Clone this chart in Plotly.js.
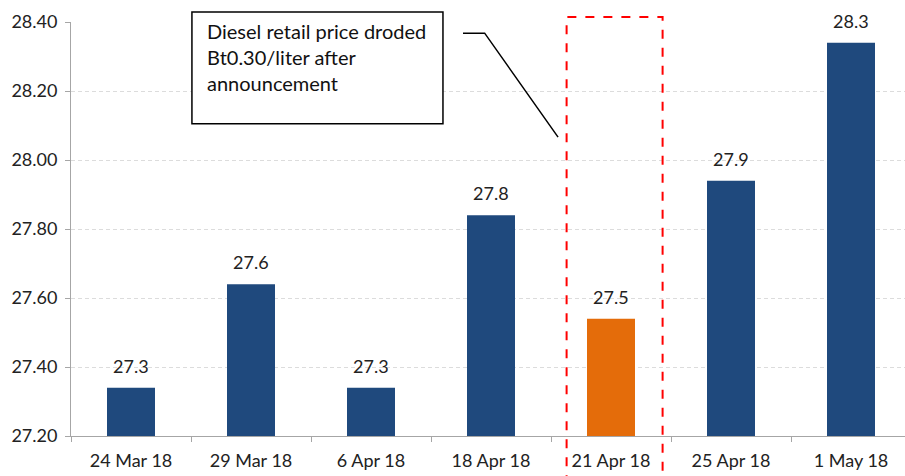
<!DOCTYPE html>
<html>
<head>
<meta charset="utf-8">
<script src="https://cdn.plot.ly/plotly-3.0.1.min.js"></script>
<style>html,body{margin:0;padding:0;background:#fff;}#chart{width:905px;height:476px;}</style>
</head>
<body>
<div id="chart"></div>
<script>
const categories = ["24 Mar 18", "29 Mar 18", "6 Apr 18", "18 Apr 18", "21 Apr 18", "25 Apr 18", "1 May 18"];
const prices = [27.34, 27.64, 27.34, 27.84, 27.54, 27.94, 28.34];
const priceLabels = ["27.3", "27.6", "27.3", "27.8", "27.5", "27.9", "28.3"];
const yTicks = [27.20, 27.40, 27.60, 27.80, 28.00, 28.20, 28.40];
const highlightCategory = "21 Apr 18";
const calloutText = "Diesel retail price droded<br>Bt0.30/liter after<br>announcement";

const FONT = "Lato, 'Open Sans', sans-serif";
const BLUE = "#1F497D";
const ORANGE = "#E46C0A";

const barColors = categories.map(c => c === highlightCategory ? ORANGE : BLUE);
const hiIdx = categories.indexOf(highlightCategory);

const labelAnns = categories.map((c, i) => ({
  x: c, y: prices[i], xref: 'x', yref: 'y', text: priceLabels[i],
  showarrow: false, yanchor: 'bottom', yshift: 9,
  font: {family: FONT, size: 18, color: '#222'}
}));

const data = [{
  type: 'bar', x: categories, y: prices,
  marker: {color: barColors, line: {width: 0}},
  width: 0.4, hoverinfo: 'none'
}];

const layout = {
  width: 905, height: 476,
  margin: {l: 71, r: 0, t: 22, b: 40},
  paper_bgcolor: '#fff', plot_bgcolor: '#fff',
  showlegend: false,
  xaxis: {
    type: 'category', range: [-0.5, 6.45],
    showline: true, linecolor: '#A6A6A6', linewidth: 1,
    ticks: 'outside', tickson: 'boundaries', ticklen: 5, tickcolor: '#A6A6A6',
    ticklabelstandoff: 8,
    showgrid: false,
    tickfont: {family: FONT, size: 18, color: '#222'},
    fixedrange: true
  },
  yaxis: {
    range: [27.20, 28.40],
    tickvals: yTicks, ticktext: yTicks.map(v => v.toFixed(2)),
    showline: true, linecolor: '#A6A6A6', linewidth: 1,
    ticks: 'outside', ticklen: 5, tickcolor: '#A6A6A6',
    ticklabelstandoff: 4,
    showgrid: true, gridcolor: '#DCDCDC', griddash: '4px,3px', gridwidth: 1,
    zeroline: false,
    tickfont: {family: FONT, size: 18, color: '#222'},
    fixedrange: true
  },
  shapes: [
    {type: 'rect', xref: 'x', yref: 'paper', x0: hiIdx - 0.37, x1: hiIdx + 0.43, y0: -0.2, y1: 1.012,
     line: {color: '#FF0000', width: 2, dash: 'dash'}, fillcolor: 'rgba(0,0,0,0)'},
    {type: 'rect', xref: 'paper', yref: 'paper', x0: 0.145, x1: 0.446, y0: 0.754, y1: 1.024,
     line: {color: '#000', width: 1.5}, fillcolor: '#fff'},
    {type: 'path', xref: 'paper', yref: 'paper',
     path: 'M 0.470 0.973 L 0.496 0.973 L 0.584 0.722',
     line: {color: '#000', width: 1.5}}
  ],
  annotations: labelAnns.concat([{
    xref: 'paper', yref: 'paper', x: 0.161, y: 1.012,
    xanchor: 'left', yanchor: 'top', align: 'left', showarrow: false,
    text: calloutText,
    font: {family: FONT, size: 20, color: '#111'}
  }])
};

Plotly.newPlot('chart', data, layout, {displayModeBar: false, staticPlot: true});
</script>
</body>
</html>
